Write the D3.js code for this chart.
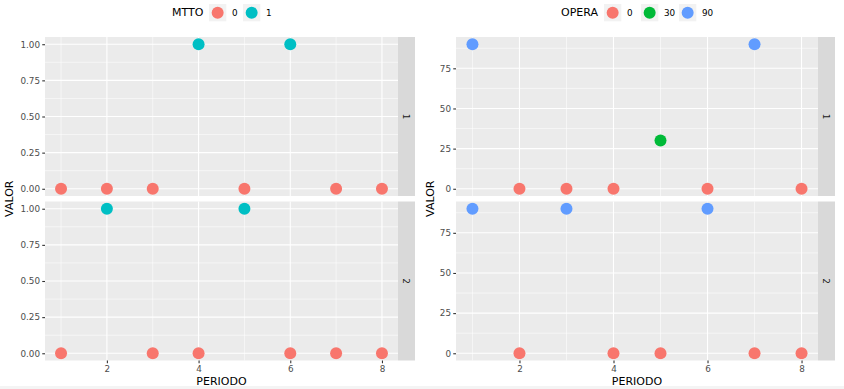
<!DOCTYPE html>
<html>
<head>
<meta charset="utf-8">
<script src="https://cdn.jsdelivr.net/npm/d3@7"></script>
<style>
  html, body { margin: 0; padding: 0; background: #fff; }
  svg { display: block; font-family: "DejaVu Sans", sans-serif; }
</style>
</head>
<body>
<svg id="chart" width="844" height="389"></svg>
<script>
// data
const periodo = [1, 2, 3, 4, 5, 6, 7, 8]
const facets = ['1', '2']

const mttoFacet1 = [0, 0, 0, 1, 0, 1, 0, 0]
const mttoFacet2 = [0, 1, 0, 0, 1, 0, 0, 0]
const mttoLevels = [0, 1]
const mttoColors = ['#F8766D', '#00BFC4']
const mttoYTicks = [0, 0.25, 0.5, 0.75, 1]

const operaFacet1 = [90, 0, 0, 0, 30, 0, 90, 0]
const operaFacet2 = [90, 0, 90, 0, 0, 90, 0, 0]
const operaLevels = [0, 30, 90]
const operaColors = ['#F8766D', '#00BA38', '#619CFF']
const operaYTicks = [0, 25, 50, 75]

const xTicks = [2, 4, 6, 8]

const svg = d3.select('#chart')

// faint band along the bottom edge
svg.append('rect')
  .attr('x', 0).attr('y', 386).attr('width', 844).attr('height', 3)
  .attr('fill', '#f4f4f4')

const panelTop = 37
const panelH = 159
const panelGap = 5.5
const stripW = 17

function drawChart ({ x0, x1, yTitleX, legend, series, levels, colors, yTicks, yFmt, yMax }) {
  const g = svg.append('g')

  const x = d3.scaleLinear().domain([0.65, 8.35]).range([x0, x1])
  const pad = yMax * 0.05
  const color = d3.scaleOrdinal().domain(levels).range(colors)

  series.forEach((vals, fi) => {
    const top = panelTop + fi * (panelH + panelGap)
    const y = d3.scaleLinear().domain([-pad, yMax + pad]).range([top + panelH, top])

    const p = g.append('g')
    p.append('rect')
      .attr('x', x0).attr('y', top)
      .attr('width', x1 - x0).attr('height', panelH)
      .attr('fill', '#EBEBEB')

    // minor grid
    const yMinor = d3.range(yTicks.length - 1).map(i => (yTicks[i] + yTicks[i + 1]) / 2)
    if (yTicks[yTicks.length - 1] < yMax) yMinor.push(yTicks[yTicks.length - 1] + (yTicks[1] - yTicks[0]) / 2)
    p.selectAll('line.ymin').data(yMinor).join('line')
      .attr('x1', x0).attr('x2', x1)
      .attr('y1', d => y(d)).attr('y2', d => y(d))
      .attr('stroke', '#fff').attr('stroke-width', 0.55)
    p.selectAll('line.xmin').data([1, 3, 5, 7]).join('line')
      .attr('y1', top).attr('y2', top + panelH)
      .attr('x1', d => x(d)).attr('x2', d => x(d))
      .attr('stroke', '#fff').attr('stroke-width', 0.55)

    // major grid
    p.append('g').selectAll('line').data(yTicks).join('line')
      .attr('x1', x0).attr('x2', x1)
      .attr('y1', d => y(d)).attr('y2', d => y(d))
      .attr('stroke', '#fff').attr('stroke-width', 1.1)
    p.append('g').selectAll('line').data(xTicks).join('line')
      .attr('y1', top).attr('y2', top + panelH)
      .attr('x1', d => x(d)).attr('x2', d => x(d))
      .attr('stroke', '#fff').attr('stroke-width', 1.1)

    // points
    p.append('g').selectAll('circle').data(periodo.map((d, i) => ({ x: d, v: vals[i] })))
      .join('circle')
      .attr('cx', d => x(d.x))
      .attr('cy', d => y(d.v))
      .attr('r', 6)
      .attr('fill', d => color(d.v))

    // y axis
    const ya = p.append('g')
      .attr('transform', `translate(${x0},0)`)
      .call(d3.axisLeft(y).tickValues(yTicks).tickFormat(yFmt).tickSize(2.75).tickPadding(2.2))
    ya.select('.domain').remove()
    ya.selectAll('line').attr('stroke', '#333333').attr('stroke-width', 1.1)
    ya.selectAll('text').attr('fill', '#4D4D4D').attr('font-size', 8.8)
      .attr('font-family', '"DejaVu Sans", sans-serif')

    // strip
    p.append('rect')
      .attr('x', x1).attr('y', top)
      .attr('width', stripW).attr('height', panelH)
      .attr('fill', '#D9D9D9')
    p.append('text')
      .attr('transform', `translate(${x1 + stripW / 2},${top + panelH / 2}) rotate(90)`)
      .attr('text-anchor', 'middle')
      .attr('dy', '0.35em')
      .attr('font-size', 8.8)
      .attr('fill', '#1A1A1A')
      .text(facets[fi])

    // x axis only under the last panel
    if (fi === series.length - 1) {
      const xa = p.append('g')
        .attr('transform', `translate(0,${top + panelH})`)
        .call(d3.axisBottom(x).tickValues(xTicks).tickSize(2.75).tickPadding(2.2))
      xa.select('.domain').remove()
      xa.selectAll('line').attr('stroke', '#333333').attr('stroke-width', 1.1)
      xa.selectAll('text').attr('fill', '#4D4D4D').attr('font-size', 8.8)
        .attr('font-family', '"DejaVu Sans", sans-serif')
    }
  })

  // axis titles
  g.append('text')
    .attr('x', (x0 + x1) / 2).attr('y', 385)
    .attr('text-anchor', 'middle')
    .attr('font-size', 11)
    .attr('fill', '#000')
    .text('PERIODO')
  g.append('text')
    .attr('transform', `translate(${yTitleX},${panelTop + panelH + panelGap / 2}) rotate(-90)`)
    .attr('text-anchor', 'middle')
    .attr('font-size', 11)
    .attr('fill', '#000')
    .text('VALOR')

  // legend
  const lg = g.append('g')
  lg.append('text')
    .attr('x', legend.titleX).attr('y', 12.5)
    .attr('dy', '0.35em')
    .attr('font-size', 11)
    .text(legend.title)
  levels.forEach((lev, i) => {
    const kx = legend.keyX[i]
    lg.append('rect')
      .attr('x', kx).attr('y', 4)
      .attr('width', 17.3).attr('height', 17.3)
      .attr('fill', '#F2F2F2')
    lg.append('circle')
      .attr('cx', kx + 8.65).attr('cy', 12.65)
      .attr('r', 6)
      .attr('fill', colors[i])
    lg.append('text')
      .attr('x', kx + 23).attr('y', 12.5)
      .attr('dy', '0.35em')
      .attr('font-size', 8.8)
      .text(lev)
  })
}

drawChart({
  x0: 45, x1: 398, yTitleX: 13,
  legend: { title: 'MTTO', titleX: 172, keyX: [209, 243] },
  series: [mttoFacet1, mttoFacet2],
  levels: mttoLevels, colors: mttoColors,
  yTicks: mttoYTicks, yFmt: d3.format('.2f'), yMax: 1
})

drawChart({
  x0: 456, x1: 818, yTitleX: 434,
  legend: { title: 'OPERA', titleX: 561, keyX: [604, 641, 679] },
  series: [operaFacet1, operaFacet2],
  levels: operaLevels, colors: operaColors,
  yTicks: operaYTicks, yFmt: d3.format('d'), yMax: 90
})
</script>
</body>
</html>
